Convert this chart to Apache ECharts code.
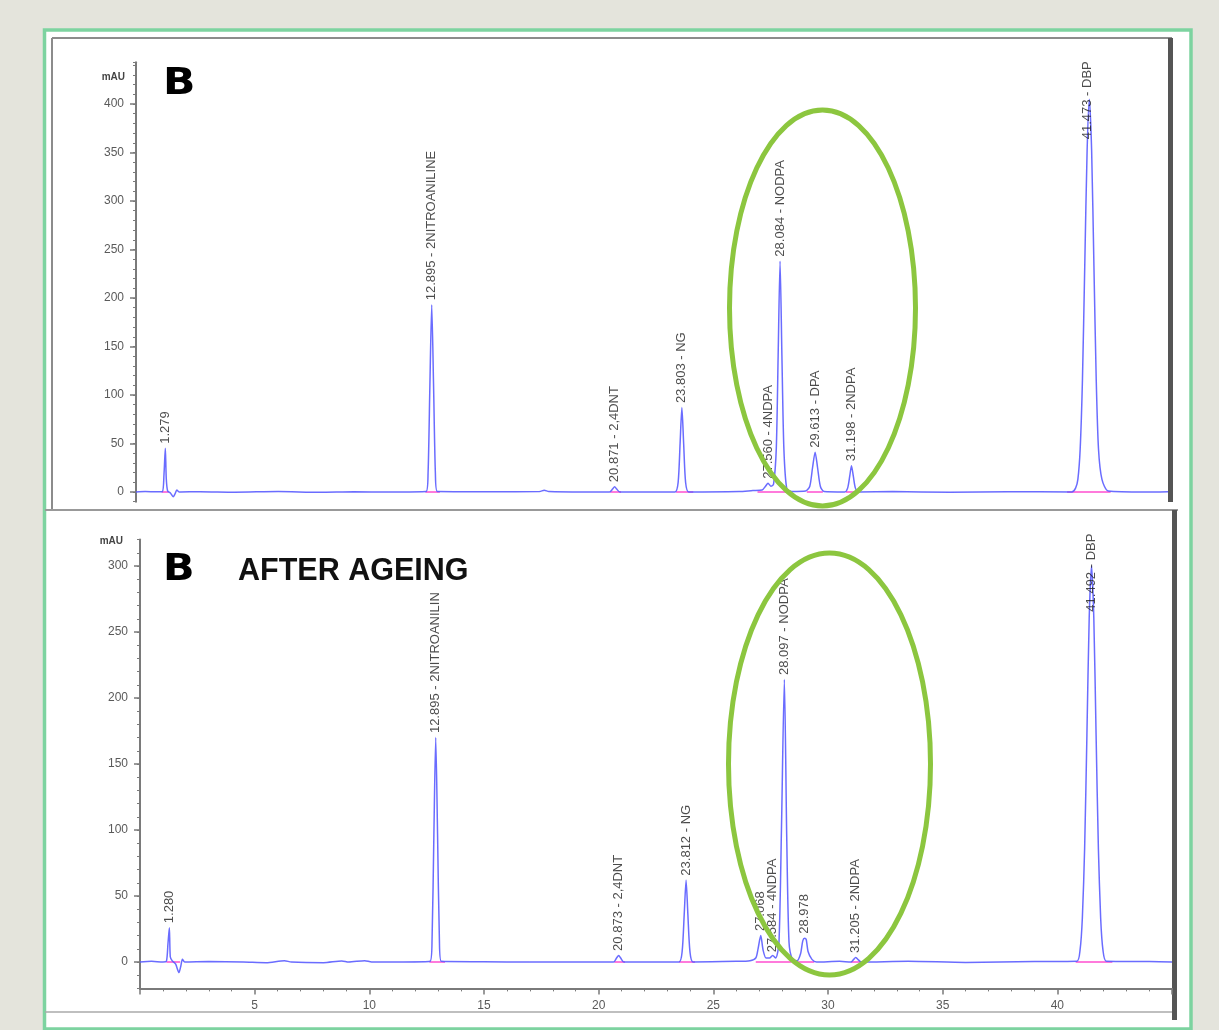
<!DOCTYPE html>
<html>
<head>
<meta charset="utf-8">
<script src="https://cdn.jsdelivr.net/npm/echarts@6/dist/echarts.min.js"></script>
<style>
html,body{margin:0;padding:0;background:#e4e4dc;}
#c{width:1219px;height:1030px;}
</style>
</head>
<body>
<div id="c"></div>
<script>
// ---------- DATA ----------
// Upper chromatogram "B": retention time (min) and absorbance (mAU)
const topTimes = [0,0.4,0.9,1.15,1.22,1.279,1.32,1.38,1.5,1.62,1.7,1.78,1.88,2.8,4.3,6.2,8.0,9.5,11.0,
  12.65,12.735,12.815,12.895,12.975,13.055,13.14,15.5,17.6,17.8,18.0,19.5,
  20.65,20.78,20.871,20.96,21.1,23.5,23.64,23.725,23.803,23.88,23.965,24.1,
  26.3,26.9,27.3,27.45,27.56,27.68,27.8,27.92,28.0,28.084,28.165,28.25,28.38,28.6,
  29.2,29.38,29.5,29.613,29.72,29.84,30.0,30.9,31.03,31.12,31.198,31.28,31.37,31.5,
  33.0,35.5,38.0,40.8,40.97,41.07,41.17,41.27,41.37,41.473,41.57,41.67,41.77,41.87,41.97,42.12,42.4,44.0,45];
const topMAU = [0,0.5,0.2,0.5,18,45,14,1,-1,-5,-2,2,0,0.3,-0.2,0.5,-0.3,0.2,0,
  0.5,19,110,193,110,19,0.5,0.3,0.5,1.8,0.5,0,
  0,3,5.5,3,0,0,10,50,87,50,10,0,
  0.5,1.5,2,6,9,6,8,45,140,238,140,45,3,0.5,
  1,6,25,41,25,6,0.5,0,4,16,27,16,4,0,
  0.4,-0.2,0.3,0,4,13,44,116,233,352,405,352,233,116,44,13,1,0,0.3,0];

// Lower chromatogram "B AFTER AGEING"
const bottomTimes = [0,0.5,1.0,1.15,1.22,1.28,1.32,1.4,1.55,1.7,1.78,1.85,1.95,3.0,4.5,5.5,6.3,6.6,8.0,8.8,9.1,9.8,10.1,11.5,
  12.65,12.735,12.815,12.895,12.975,13.055,13.14,15.0,17.0,
  20.65,20.78,20.873,20.96,21.1,23.5,23.64,23.73,23.812,23.89,23.98,24.12,
  26.0,26.6,26.85,26.95,27.068,27.17,27.3,27.45,27.584,27.72,27.86,27.97,28.097,28.2,28.3,28.45,28.65,
  28.8,28.9,28.978,29.05,29.13,29.3,29.5,30.5,31.0,31.12,31.205,31.3,31.45,
  33.5,36.0,39.0,40.85,40.99,41.09,41.19,41.29,41.39,41.492,41.59,41.69,41.79,41.89,41.99,42.14,44.0,45];
const bottomMAU = [0,0.5,0,0.5,14,26,4,1,-1.5,-8,-3,2,0,0.3,0,-0.5,1,0,-0.5,0.8,0,1,0,0,
  0.5,17,97,170,97,17,0.5,0.2,0,
  0,3,5,3,0,0,8,36,62,36,8,0,
  0.5,1,3,10,20,9,3,3,5,3,14,100,214,95,15,2,1,
  6,16,18,17,8,2,0,0.5,0,2,3.5,2,0,
  0.5,-0.3,0.3,0.5,9,33,86,172,261,300,261,172,86,33,9,0.5,0.3,0];

// Integration baselines (start / end, min)
const topBaseStart = [1.12,12.62,20.68,23.55,27.1,27.75,29.25,30.95,40.6];
const topBaseEnd   = [1.42,13.25,21.15,24.3,27.75,28.5,29.95,31.5,42.5];
const bottomBaseStart = [1.15,12.62,20.68,23.5,26.85,27.4,28.7,31.0,40.8];
const bottomBaseEnd   = [1.75,13.3,21.15,24.2,27.4,28.4,29.4,31.45,42.4];

// Peak annotations: retention time, label anchor (mAU), label text
const topPeakTimes = [1.279,12.895,20.871,23.803,27.56,28.084,29.613,31.198,41.473];
const topPeakLabelAt = [45,193,5.5,87,9,238,41,27,359];
const topPeakNames = ['1.279','12.895 - 2NITROANILINE','20.871 - 2,4DNT','23.803 - NG','27.560 - 4NDPA','28.084 - NODPA','29.613 - DPA','31.198 - 2NDPA','41.473 - DBP'];

const bottomPeakTimes = [1.28,12.895,20.873,23.812,27.068,27.584,28.097,28.978,31.205,41.492];
const bottomPeakLabelAt = [26,170,5,62,20,4,214,18,3.5,262];
const bottomPeakNames = ['1.280','12.895 - 2NITROANILIN','20.873 - 2,4DNT','23.812 - NG','27.068','27.584 - 4NDPA','28.097 - NODPA','28.978','31.205 - 2NDPA','41.492 - DBP'];

// Axis ticks
const topYTicks = [0,50,100,150,200,250,300,350,400];
const bottomYTicks = [0,50,100,150,200,250,300];
const xTickLabels = [5,10,15,20,25,30,35,40];

// ---------- CHART ----------
const FONT = '"Liberation Sans", Arial, sans-serif';
const chart = echarts.init(document.getElementById('c'), null, {renderer:'canvas', width:1219, height:1030});

function pairs(ts, vs){ return ts.map((t,i)=>[t, vs[i]]); }
function segs(s, e){ const out=[]; s.forEach((a,i)=>{ out.push([a,0],[e[i],0],'-'); }); return out; }
function labels(ts, hs, names){ return ts.map((t,i)=>({value:[t,hs[i]], label:{formatter:names[i]}})); }

const traceColor = '#5a5cff';
const axisGray = '#7a7a7a';

function yMain(grid, min, max, ticks){
  return {
    gridIndex:grid, type:'value', min:min, max:max, position:'left',
    axisLine:{show:true, onZero:false, lineStyle:{color:axisGray, width:2}},
    axisTick:{show:true, length:6, customValues:ticks, lineStyle:{color:axisGray, width:1.5}},
    axisLabel:{show:true, customValues:ticks, color:'#5a5a5a', fontSize:12, margin:12, fontFamily:FONT},
    splitLine:{show:false}
  };
}
function yMinor(grid, min, max){
  return {
    gridIndex:grid, type:'value', min:min, max:max, interval:10, position:'left',
    axisLine:{show:false}, axisLabel:{show:false}, splitLine:{show:false},
    axisTick:{show:true, length:3, lineStyle:{color:axisGray, width:1}}
  };
}

const labelStyle = {
  show:true, position:'top', distance:4, rotate:90, align:'left', verticalAlign:'middle',
  fontSize:13, color:'#1e1e1e', fontFamily:FONT
};

const option = {
  backgroundColor:'#e4e4dc',
  animation:false,
  grid:[
    {left:136, width:1032, top:62.3, height:439.4},
    {left:140, width:1032, top:539.6, height:448.8}
  ],
  xAxis:[
    {gridIndex:0, type:'value', min:0, max:45, show:false},
    {gridIndex:1, type:'value', min:0, max:45, interval:5,
      axisLine:{show:true, onZero:false, lineStyle:{color:axisGray, width:2}},
      axisTick:{show:true, length:6, lineStyle:{color:axisGray, width:1.5}},
      minorTick:{show:true, splitNumber:5, length:3, lineStyle:{color:axisGray, width:1}},
      axisLabel:{color:'#5a5a5a', fontSize:12, margin:11, fontFamily:FONT,
        formatter:v => xTickLabels.indexOf(v) >= 0 ? String(v) : ''},
      splitLine:{show:false}}
  ],
  yAxis:[
    yMain(0, -10, 443, topYTicks),
    yMinor(0, -10, 443),
    yMain(1, -20, 320, bottomYTicks),
    yMinor(1, -20, 320)
  ],
  series:[
    {type:'line', xAxisIndex:0, yAxisIndex:0, data:segs(topBaseStart, topBaseEnd), symbol:'none',
      lineStyle:{color:'#ff4fd0', width:1.5}, connectNulls:false, silent:true, z:2},
    {type:'line', xAxisIndex:0, yAxisIndex:0, data:pairs(topTimes, topMAU), symbol:'none', smooth:0.25,
      lineStyle:{color:traceColor, width:1.5, opacity:0.9}, silent:true, z:3},
    {type:'scatter', xAxisIndex:0, yAxisIndex:0, data:labels(topPeakTimes, topPeakLabelAt, topPeakNames),
      symbolSize:1, itemStyle:{color:'rgba(0,0,0,0)'}, label:labelStyle, silent:true, z:4},
    {type:'line', xAxisIndex:1, yAxisIndex:2, data:segs(bottomBaseStart, bottomBaseEnd), symbol:'none',
      lineStyle:{color:'#ff4fd0', width:1.5}, connectNulls:false, silent:true, z:2},
    {type:'line', xAxisIndex:1, yAxisIndex:2, data:pairs(bottomTimes, bottomMAU), symbol:'none', smooth:0.25,
      lineStyle:{color:traceColor, width:1.5, opacity:0.9}, silent:true, z:3},
    {type:'scatter', xAxisIndex:1, yAxisIndex:2, data:labels(bottomPeakTimes, bottomPeakLabelAt, bottomPeakNames),
      symbolSize:1, itemStyle:{color:'rgba(0,0,0,0)'}, label:labelStyle, silent:true, z:4}
  ],
  graphic:[
    // outer white card with green border
    {type:'rect', z:-10, shape:{x:44.5, y:30, width:1146.5, height:999}, style:{fill:'#ffffff', stroke:'#7dd3a0', lineWidth:3.5}},
    // upper panel frame
    {type:'line', z:-5, shape:{x1:52, y1:38, x2:1172, y2:38}, style:{stroke:'#8c8c8c', lineWidth:2}},
    {type:'line', z:-5, shape:{x1:52, y1:38, x2:52, y2:510}, style:{stroke:'#8c8c8c', lineWidth:2}},
    {type:'line', z:-5, shape:{x1:1170.5, y1:38, x2:1170.5, y2:502}, style:{stroke:'#555555', lineWidth:5}},
    // separator and lower panel frame
    {type:'line', z:-5, shape:{x1:45, y1:510, x2:1178, y2:510}, style:{stroke:'#999999', lineWidth:2}},
    {type:'line', z:-5, shape:{x1:1174.5, y1:510, x2:1174.5, y2:1020}, style:{stroke:'#555555', lineWidth:5}},
    {type:'line', z:-5, shape:{x1:45, y1:1012, x2:1172, y2:1012}, style:{stroke:'#aaaaaa', lineWidth:1.5}},
    // axis units
    {type:'text', z:10, style:{text:'mAU', x:125, y:77, align:'right', verticalAlign:'middle', font:'bold 10px '+FONT, fill:'#444'}},
    {type:'text', z:10, style:{text:'mAU', x:123, y:541, align:'right', verticalAlign:'middle', font:'bold 10px '+FONT, fill:'#444'}},
    // panel titles
    {type:'text', z:10, x:163, y:84, scaleX:1.12, style:{text:'B', x:0, y:0, align:'left', verticalAlign:'middle', font:'bold 38px "DejaVu Sans", sans-serif', fill:'#000'}},
    {type:'text', z:10, x:163, y:570, scaleX:1.12, style:{text:'B', x:0, y:0, align:'left', verticalAlign:'middle', font:'bold 37px "DejaVu Sans", sans-serif', fill:'#000'}},
    {type:'text', z:10, style:{text:'AFTER AGEING', x:238, y:572, align:'left', verticalAlign:'middle', font:'bold 30.5px '+FONT, fill:'#111'}},
    // highlight ellipses
    {type:'ellipse', z:20, shape:{cx:822.5, cy:308, rx:93, ry:198}, style:{fill:'none', stroke:'#8cc63f', lineWidth:5}},
    {type:'ellipse', z:20, shape:{cx:829.5, cy:764, rx:101, ry:211}, style:{fill:'none', stroke:'#8cc63f', lineWidth:5}}
  ]
};
chart.setOption(option);
</script>
</body>
</html>
